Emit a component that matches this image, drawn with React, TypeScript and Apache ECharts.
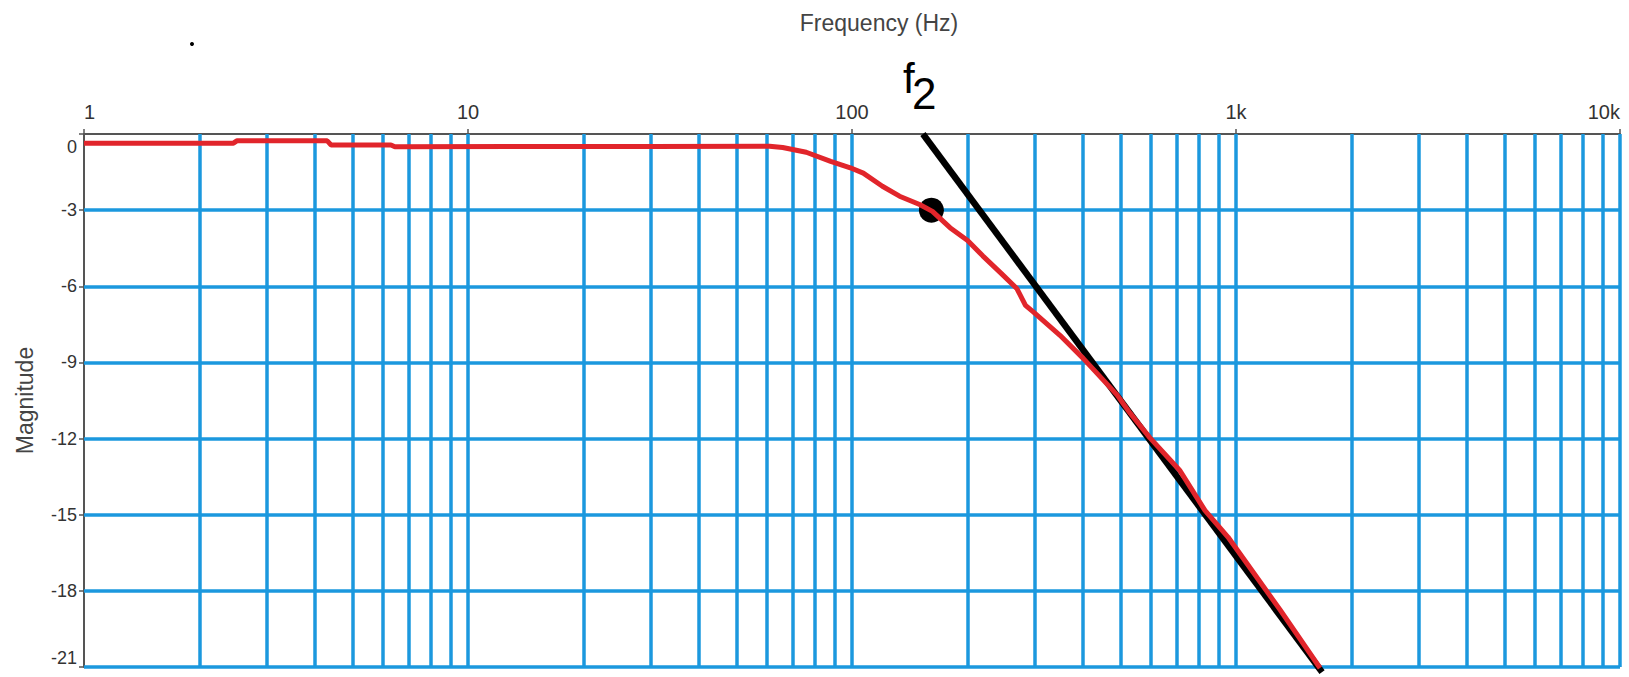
import React, { useEffect, useRef } from "react";
import * as echarts from "echarts";

// Measured magnitude response (red trace)
const freqHz = [
  1, 2.45, 2.5, 4.3, 4.4, 6.3, 6.45, 30, 61, 66, 76, 88, 99, 107, 120, 133, 150, 162,
  180, 200, 219, 245, 269, 283, 296, 348, 400, 490, 530, 597, 715, 830, 953, 1069, 1303, 1655,
];
const magDb = [
  -0.36, -0.36, -0.27, -0.27, -0.43, -0.43, -0.5, -0.49, -0.48, -0.53, -0.72, -1.08, -1.33, -1.54,
  -2.06, -2.45, -2.78, -3.05, -3.69, -4.2, -4.8, -5.5, -6.1, -6.75, -7.0, -7.93, -8.84, -10.28,
  -11.0, -11.97, -13.27, -14.83, -15.88, -16.93, -18.75, -21.04,
];

// Hand-drawn -20 dB/decade asymptote (black)
const asymFreq = [153, 1675];
const asymDb = [0, -21.2];

// -3 dB point marker (f2)
const markerFreq = [161];
const markerDb = [-3];

// Grid lines
const gridFreqs = [
  2, 3, 4, 5, 6, 7, 8, 9, 10,
  20, 30, 40, 50, 60, 70, 80, 90, 100,
  200, 300, 400, 500, 600, 700, 800, 900, 1000,
  2000, 3000, 4000, 5000, 6000, 7000, 8000, 9000, 10000,
];
const gridDbs = [-3, -6, -9, -12, -15, -18, -21];

// Tick labels
const xTickValues = [1, 10, 100, 1000, 10000];
const xTickLabels = ["1", "10", "100", "1k", "10k"];

const BLUE = "#1b98de";
const RED = "#e1252b";
const AXIS = "#555555";
const FONT = "'Liberation Sans', Arial, sans-serif";

export default function App() {
  const ref = useRef<HTMLDivElement>(null);
  useEffect(() => {
    document.body.style.margin = "0";
    const chart = echarts.init(ref.current!, null, { renderer: "svg" });
    const option: any = {
      animation: false,
      backgroundColor: "#ffffff",
      textStyle: { fontFamily: FONT },
      grid: { left: 84, top: 134, right: 9, bottom: 10, containLabel: false },
      xAxis: {
        type: "log",
        logBase: 10,
        min: 1,
        max: 10000,
        position: "top",
        name: "Frequency (Hz)",
        nameLocation: "middle",
        nameGap: 100,
        nameTextStyle: { fontSize: 23, color: "#444", fontFamily: FONT, padding: [0, 0, 0, 54] },
        axisLine: { show: true, lineStyle: { color: AXIS, width: 2 } },
        axisTick: { show: true, inside: false, length: 5, lineStyle: { color: AXIS, width: 1.5 } },
        axisLabel: {
          fontSize: 20,
          color: "#333",
          fontFamily: FONT,
          margin: 12,
          alignMinLabel: "left",
          alignMaxLabel: "right",
          formatter: (v: number) => {
            const i = xTickValues.indexOf(Math.round(v));
            return i >= 0 ? xTickLabels[i] : "";
          },
        },
        splitLine: { show: false },
        minorTick: { show: false },
      },
      yAxis: {
        type: "value",
        min: -21,
        max: 0,
        interval: 3,
        name: "Magnitude",
        nameLocation: "middle",
        nameGap: 48,
        nameTextStyle: { fontSize: 23, color: "#444", fontFamily: FONT },
        axisLine: { show: true, lineStyle: { color: AXIS, width: 2 } },
        axisTick: { show: true, inside: false, length: 5, lineStyle: { color: AXIS, width: 1.5 } },
        axisLabel: {
          fontSize: 18,
          color: "#333",
          fontFamily: FONT,
          margin: 7,
          formatter: (v: number) => {
            if (v === 0) return "{top|0}";
            if (v === -21) return "{bot|-21}";
            return String(v);
          },
          rich: {
            top: { fontSize: 18, color: "#333", fontFamily: FONT, padding: [26, 0, 0, 0] },
            bot: { fontSize: 18, color: "#333", fontFamily: FONT, padding: [0, 0, 18, 0] },
          },
        },
        splitLine: { show: false },
      },
      series: [
        {
          type: "line",
          name: "grid",
          data: [],
          silent: true,
          markLine: {
            silent: true,
            z: 1,
            symbol: ["none", "none"],
            label: { show: false },
            lineStyle: { color: BLUE, width: 3.5, type: "solid", opacity: 1 },
            emphasis: { disabled: true },
            data: [
              ...gridFreqs.map((v) => ({ xAxis: v })),
              ...gridDbs.map((v) => ({ yAxis: v })),
            ],
          },
        },
        {
          type: "scatter",
          name: "f2",
          data: markerFreq.map((f, i) => [f, markerDb[i]]),
          symbol: "circle",
          symbolSize: 25,
          itemStyle: { color: "#000", opacity: 1 },
          z: 3,
          silent: true,
        },
        {
          type: "line",
          name: "asymptote",
          data: asymFreq.map((f, i) => [f, asymDb[i]]),
          showSymbol: false,
          clip: false,
          lineStyle: { color: "#000", width: 6.5 },
          z: 4,
          silent: true,
        },
        {
          type: "line",
          name: "magnitude",
          data: freqHz.map((f, i) => [f, magDb[i]]),
          showSymbol: false,
          clip: false,
          lineStyle: { color: RED, width: 5 },
          z: 5,
          silent: true,
        },
      ],
      graphic: [
        {
          type: "text",
          x: 903,
          y: 78,
          style: { text: "f", fontSize: 42, fill: "#000", fontFamily: FONT, textAlign: "left", textVerticalAlign: "middle" },
        },
        {
          type: "text",
          x: 912,
          y: 93,
          style: { text: "2", fontSize: 44, fill: "#000", fontFamily: FONT, textAlign: "left", textVerticalAlign: "middle" },
        },
        {
          type: "circle",
          shape: { cx: 192, cy: 44, r: 2 },
          style: { fill: "#000" },
        },
      ],
    };
    chart.setOption(option);
    return () => chart.dispose();
  }, []);
  return <div ref={ref} style={{ width: 1629, height: 677 }} />;
}
